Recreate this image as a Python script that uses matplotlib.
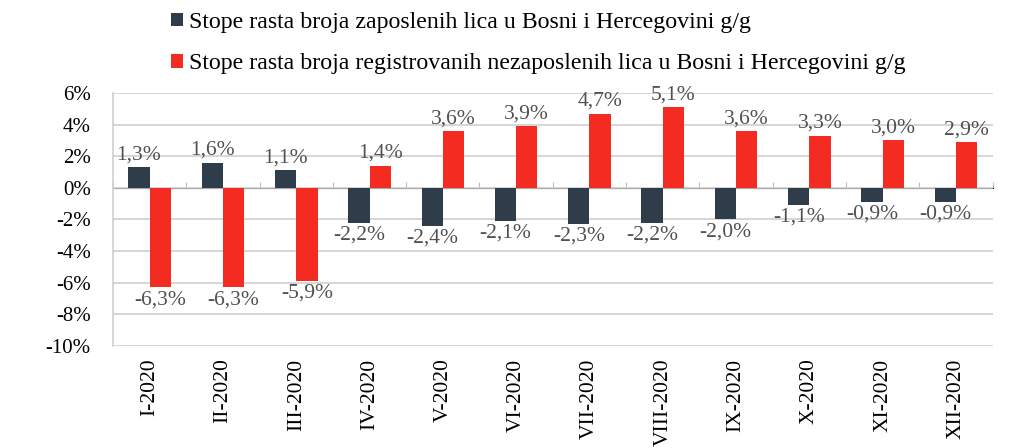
import matplotlib.pyplot as plt
import numpy as np

mjeseci = ["I-2020", "II-2020", "III-2020", "IV-2020", "V-2020", "VI-2020",
           "VII-2020", "VIII-2020", "IX-2020", "X-2020", "XI-2020", "XII-2020"]
zaposleni = [1.3, 1.6, 1.1, -2.2, -2.4, -2.1, -2.3, -2.2, -2.0, -1.1, -0.9, -0.9]
nezaposleni = [-6.3, -6.3, -5.9, 1.4, 3.6, 3.9, 4.7, 5.1, 3.6, 3.3, 3.0, 2.9]
naziv1 = "Stope rasta broja zaposlenih lica u Bosni i Hercegovini g/g"
naziv2 = "Stope rasta broja registrovanih nezaposlenih lica u Bosni i Hercegovini g/g"

plt.rcParams["font.family"] = ["Liberation Serif", "DejaVu Serif"]

fig = plt.figure(figsize=(10.3, 4.48), dpi=100)
ax = fig.add_axes([0.1097, 0.2277, 0.854, 0.5647])

x = np.arange(len(mjeseci))
w = 0.29
b1 = ax.bar(x - w / 2, zaposleni, w, color="#2f3d4a", label=naziv1, zorder=3)
b2 = ax.bar(x + w / 2, nezaposleni, w, color="#f42b20", label=naziv2, zorder=3)

fmt = lambda v: ("%.1f%%" % v).replace(".", ",")
ax.bar_label(b1, labels=[fmt(v) for v in zaposleni], padding=2, fontsize=15.5, color="#505050", zorder=4)
ax.bar_label(b2, labels=[fmt(v) for v in nezaposleni], padding=2, fontsize=15.5, color="#505050", zorder=4)

ax.set_xlim(-0.5, len(mjeseci) - 0.5)
ax.set_ylim(-10, 6)
ax.set_yticks(range(-10, 7, 2))
ax.set_yticklabels(["%d%%" % t for t in range(-10, 7, 2)], fontsize=15)
ax.set_xticks(x)
ax.set_xticklabels(mjeseci, rotation=90, fontsize=15.5)
ax.tick_params(axis="x", length=0, pad=9)
ax.tick_params(axis="y", length=0, pad=16)
ax.grid(axis="y", color="#cfcfcf", linewidth=1.2, zorder=0)

for s in ["top", "right", "bottom"]:
    ax.spines[s].set_visible(False)
ax.spines["left"].set_color("#cfcfcf")
ax.spines["left"].set_linewidth(1.2)

# nulta osa sa malim crticama izmedju mjeseci
nula = ax.secondary_xaxis(10 / 16)
nula.set_xticks(np.arange(len(mjeseci) + 1) - 0.5)
nula.set_xticklabels([])
nula.tick_params(length=4, color="#bbbbbb", direction="out")
nula.spines["bottom"].set_color("#cfcfcf")
nula.spines["bottom"].set_linewidth(1.2)

fig.legend(handles=[b1, b2], loc="upper left", bbox_to_anchor=(0.152, 1.005),
           frameon=False, fontsize=17.2, handlelength=0.5, handleheight=0.5,
           handletextpad=0.25, labelspacing=0.85, borderaxespad=0.2)

plt.savefig("out.png")
